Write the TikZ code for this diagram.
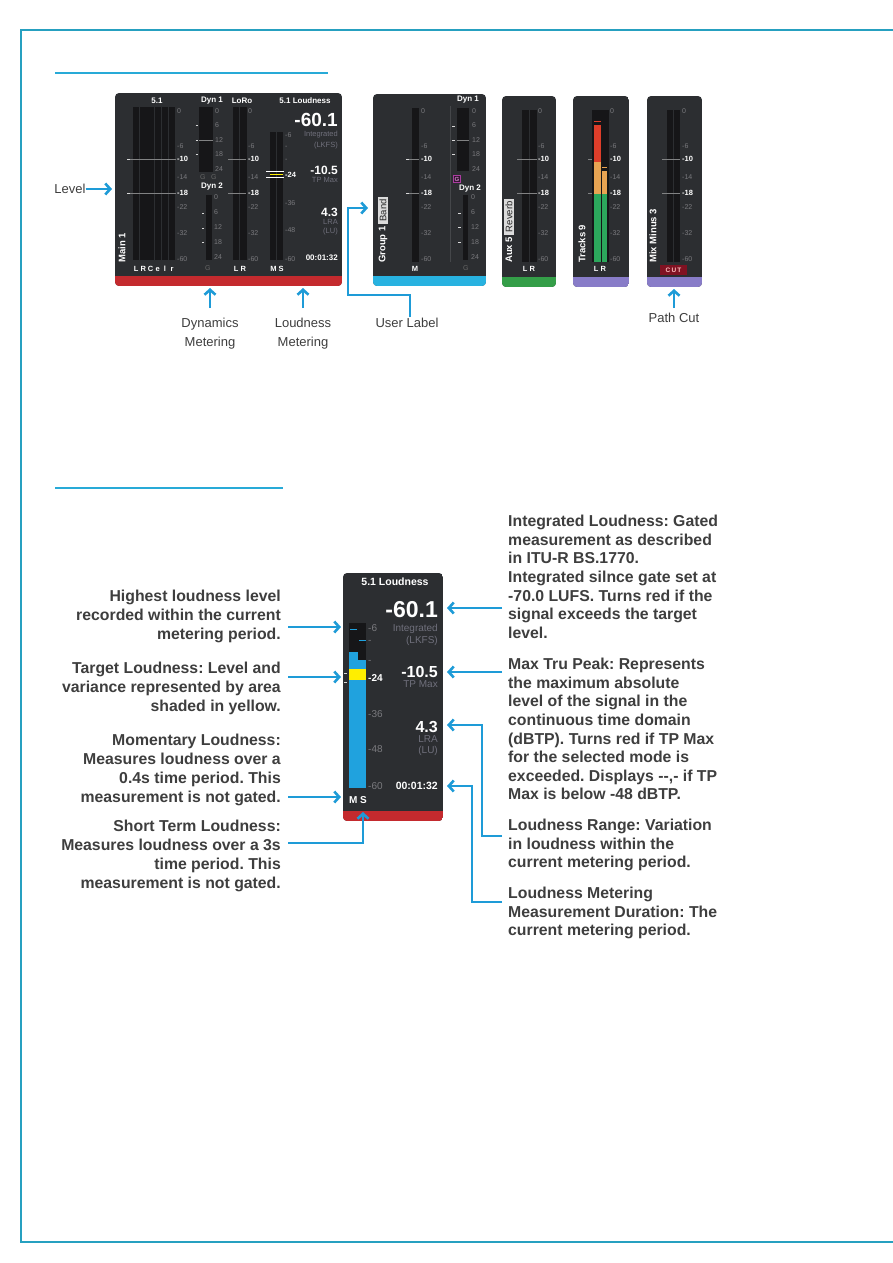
\documentclass[tikz,border=0pt]{standalone}
\usepackage{fontspec}
\setmainfont{Liberation Sans}
\usepackage{tikz}
\usetikzlibrary{arrows.meta, positioning, calc}

\definecolor{framecol}{RGB}{38,160,192}
\definecolor{rulecol}{RGB}{40,170,215}
\definecolor{arrowblue}{RGB}{30,155,215}
\definecolor{panelgray}{RGB}{44,46,49}
\definecolor{meterdark}{RGB}{22,22,24}
\definecolor{scalegray}{RGB}{122,122,126}
\definecolor{bandred}{RGB}{196,42,46}
\definecolor{bandcyan}{RGB}{40,178,224}
\definecolor{bandgreen}{RGB}{52,158,72}
\definecolor{bandpurple}{RGB}{136,124,200}
\definecolor{loudblue}{RGB}{32,162,222}
\definecolor{targetyellow}{RGB}{255,238,0}
\definecolor{mtrred}{RGB}{222,62,42}
\definecolor{mtrorange}{RGB}{232,164,82}
\definecolor{mtrgreen}{RGB}{44,168,92}
\definecolor{cutred}{RGB}{128,18,34}
\definecolor{textgray}{RGB}{62,62,62}
\definecolor{subgray}{RGB}{112,112,124}
\definecolor{gatemag}{RGB}{170,60,160}

\newcommand{\fsz}[2]{\fontsize{#1}{#2}\selectfont}

%% strip panel with coloured foot band
\newcommand{\strippanel}[5]{%
  \begin{scope}
    \clip[rounded corners=4pt] (#1,#2) rectangle (#3,#4);
    \fill[panelgray] (#1,#2) rectangle (#3,#4);
    \fill[#5] (#1,#4-10) rectangle (#3,#4);
  \end{scope}}

%% level scale beside a meter
\newcommand{\levelscale}[1]{%
  \foreach \v/\yy [count=\k] in {0/111,-6/146,-14/177,-22/207,-32/233,-60/259}
    \node[scl] (lv#1-\k) at (#1,\yy) {\v};
  \foreach \v/\yy [count=\k] in {-10/159,-18/193}
    \node[sclb] (lvb#1-\k) at (#1,\yy) {\v};}

%% dynamics scale: x, top y, step
\newcommand{\dynscale}[3]{%
  \foreach \v [count=\k from 0] in {0,6,12,18,24}
    \node[scl] (dy#1-#2-\k) at (#1,{#2+\k*#3}) {\v};}

\begin{document}
\frenchspacing
\begin{tikzpicture}[x=1pt, y=-1pt,
  arr/.style={-{Straight Barb[length=5pt,width=11pt]}, line width=2.6pt, arrowblue},
  ttl/.style={font=\bfseries\fsz{8}{8}, text=white, inner sep=0},
  scl/.style={anchor=west, inner sep=0, font=\fsz{7}{7}, text=scalegray},
  sclb/.style={anchor=west, inner sep=0, font=\bfseries\fsz{7.5}{7.5}, text=white},
  chn/.style={font=\bfseries\fsz{7.5}{7.5}, text=white, inner sep=0,
    text height=5.4pt, text depth=0pt},
  chname/.style={rotate=90, anchor=west, font=\bfseries\fsz{9.5}{9.5}, text=white, inner sep=0},
  usrlbl/.style={rotate=90, anchor=west, fill=black!14, text=black!85,
    font=\fsz{9.5}{9.5}, inner xsep=2.5pt, inner ysep=1.2pt},
  tickln/.style={white!40!panelgray, line width=0.5pt},
  tickw/.style={white!85!black, line width=0.7pt},
  valtop/.style={anchor=east, inner sep=0, text=white, font=\bfseries\fsz{12}{12}},
  subtop/.style={anchor=east, inner sep=0, text=subgray, font=\fsz{7.5}{7.5}},
  valbig/.style={anchor=east, inner sep=0, text=white, font=\bfseries\fsz{16}{16}},
  subbig/.style={anchor=east, inner sep=0, text=subgray, font=\fsz{10}{10}},
  sclbig/.style={anchor=west, inner sep=0, font=\fsz{10}{10}, text=scalegray},
  lbl/.style={font=\fsz{13}{19}, text=textgray, inner sep=1pt, align=center},
  annL/.style={font=\bfseries\fsz{15.8}{19}, text=textgray, inner sep=0,
    align=right, anchor=north east},
  annR/.style={font=\bfseries\fsz{15.8}{18.6}, text=textgray, inner sep=0,
    align=left, anchor=north west}
]
  \fill[white] (0,0) rectangle (893,1263);
  \useasboundingbox (0,0) rectangle (893,1263);

  %% page frame and section rules
  \draw[framecol, line width=1.3pt] (893,30) -- (21,30) -- (21,1242) -- (893,1242);
  \draw[rulecol, line width=1.4pt] (55,73) -- (328,73);
  \draw[rulecol, line width=1.4pt] (55,488) -- (283,488);

  %% ---------- Main 1 strip ----------
  \strippanel{115}{93}{342}{286}{bandred}
  \node[ttl] (t51)   at (157,101) {5.1};
  \node[ttl] (tdyn1) at (212,101) {Dyn 1};
  \node[ttl] (tloro) at (242,101) {LoRo};
  \node[ttl] (tloud) at (305,101) {5.1 Loudness};
  \node[chname] (mainnm) at (122,263) {Main 1};

  % 5.1 level meter
  \foreach \i in {0,...,5}
    \fill[meterdark] ({133+\i*7.2},107) rectangle ({139.4+\i*7.2},260);
  \foreach \c [count=\i from 0] in {L,R,C,e,l,r}
    \node[chn] (ch51-\i) at ({136.2+\i*7.2},269) {\c};
  \draw[tickln] (127,159) -- (176,159);
  \draw[tickln] (127,193) -- (176,193);
  \draw[tickw] (127,159) -- (130,159);
  \draw[tickw] (127,193) -- (130,193);
  \levelscale{177}

  % dynamics meters
  \fill[meterdark] (199,107) rectangle (213,172);
  \dynscale{215}{111}{14.5}
  \foreach \yy in {125,140,154} \draw[tickw] (195.5,\yy) -- (197.5,\yy);
  \draw[tickln] (199,140) -- (213,140);
  \node[scl, text=black!60] (mg1) at (200,177) {G};
  \node[scl, text=black!60] (mg2) at (211,177) {G};
  \node[ttl] (tdyn2) at (212,187) {Dyn 2};
  \fill[meterdark] (206,195) rectangle (212,260);
  \dynscale{214}{197}{15}
  \foreach \yy in {213,228,242} \draw[tickw] (202,\yy) -- (204,\yy);
  \node[scl, text=black!60] (mg3) at (205,268) {G};

  % LoRo meter
  \fill[meterdark] (233,107) rectangle (239.4,260);
  \fill[meterdark] (240.2,107) rectangle (246.5,260);
  \draw[tickln] (228,159) -- (246,159);
  \draw[tickln] (228,193) -- (246,193);
  \levelscale{248}
  \node[chn] (chlr) at (240,269) {L R};

  % loudness meter
  \fill[meterdark] (270,132) rectangle (276.2,260);
  \fill[meterdark] (277,132) rectangle (283,260);
  \draw[white, line width=0.6pt] (266,171) -- (284,171);
  \draw[white, line width=0.6pt] (266,177) -- (284,177);
  \draw[targetyellow, line width=0.8pt] (270,174) -- (283,174);
  \foreach \v/\yy [count=\k] in {-6/135,-/147,-/160,-36/203,-48/230,-60/259}
    \node[scl] (ls-\k) at (285,\yy) {\v};
  \node[sclb] (ls24) at (285,175) {-24};
  \node[chn] (chms) at (277,269) {M S};
  \node[valtop, font=\bfseries\fsz{19}{19}] (tint) at (338,120) {-60.1};
  \node[subtop] (tint1) at (338,135) {Integrated};
  \node[subtop] (tint2) at (338,146) {(LKFS)};
  \node[valtop] (ttp)  at (338,170) {-10.5};
  \node[subtop] (ttp1) at (338,180) {TP Max};
  \node[valtop] (tlra) at (338,212) {4.3};
  \node[subtop] (tlra1) at (338,222) {LRA};
  \node[subtop] (tlra2) at (338,232) {(LU)};
  \node[valtop, font=\bfseries\fsz{8}{8}] (ttime) at (338,258) {00:01:32};

  %% ---------- Group 1 strip ----------
  \strippanel{373}{94}{486}{286}{bandcyan}
  \fill[meterdark] (412,108) rectangle (419,262);
  \draw[tickln] (406,159) -- (419,159);
  \draw[tickln] (406,193) -- (419,193);
  \draw[tickw] (406,159) -- (409,159);
  \draw[tickw] (406,193) -- (409,193);
  \levelscale{421}
  \node[chn] (chm) at (415,269) {M};
  \draw[white!12!panelgray, line width=0.6pt] (450,106) -- (450,262);
  \node[ttl] (gdyn1) at (468,100) {Dyn 1};
  \fill[meterdark] (457,108) rectangle (469,171);
  \dynscale{472}{111}{14.5}
  \foreach \yy in {126,140,154} \draw[tickw] (452,\yy) -- (455,\yy);
  \draw[tickln] (457,140) -- (469,140);
  \node[draw=gatemag, fill=gatemag!30!black, text=gatemag!60!white, font=\bfseries\fsz{6}{6},
    inner sep=1.2pt] (ggate) at (457,179) {G};
  \node[ttl] (gdyn2) at (470,189) {Dyn 2};
  \fill[meterdark] (463,195) rectangle (468,260);
  \dynscale{471}{197}{15}
  \foreach \yy in {213,227,242} \draw[tickw] (458,\yy) -- (461,\yy);
  \node[scl, text=black!60] (gg3) at (463,268) {G};
  \node[chname] (grp) at (383,263) {Group 1};
  \node[usrlbl] (grpbnd) at ([yshift=2pt]grp.east) {Band};

  %% ---------- Aux 5 strip ----------
  \strippanel{502}{96}{556}{287}{bandgreen}
  \fill[meterdark] (522,110) rectangle (529.2,262);
  \fill[meterdark] (530,110) rectangle (537,262);
  \draw[tickln] (517,159) -- (537,159);
  \draw[tickln] (517,193) -- (537,193);
  \levelscale{538}
  \node[chn] (chaux) at (529,269) {L R};
  \node[chname] (aux) at (509,263) {Aux 5};
  \node[usrlbl] (auxrev) at ([yshift=2pt]aux.east) {Reverb};

  %% ---------- Tracks 9 strip ----------
  \strippanel{573}{96}{629}{287}{bandpurple}
  \fill[meterdark] (592,110) rectangle (609,262);
  \fill[mtrred]    (594,125) rectangle (601,162);
  \fill[mtrorange] (594,162) rectangle (601,194);
  \fill[mtrgreen]  (594,194) rectangle (601,262);
  \fill[mtrorange] (602,171) rectangle (607,194);
  \fill[mtrgreen]  (602,194) rectangle (607,262);
  \draw[mtrred, line width=1pt] (594,121) -- (601,121);
  \draw[mtrorange, line width=1pt] (602,167) -- (607,167);
  \draw[tickln] (588,159) -- (592,159);
  \draw[tickln] (588,193) -- (592,193);
  \levelscale{610}
  \node[chn] (chtrk) at (600,269) {L R};
  \node[chname] (trk) at (582,263) {Tracks 9};

  %% ---------- Mix Minus 3 strip ----------
  \strippanel{647}{96}{702}{287}{bandpurple}
  \fill[meterdark] (667,110) rectangle (673.2,262);
  \fill[meterdark] (674,110) rectangle (680,262);
  \draw[tickln] (662,159) -- (680,159);
  \draw[tickln] (662,193) -- (680,193);
  \levelscale{682}
  \node[fill=cutred, text=red!25!white, font=\bfseries\fsz{6.5}{6.5}, inner sep=0,
    minimum width=27pt, minimum height=10pt] (cut) at (673.5,270) {C\,U\,T};
  \node[chname] (mix) at (653,263) {Mix Minus 3};

  %% top call-outs
  \coordinate (lvl-t) at (112,189);
  \coordinate (dyn-t) at (210,288);
  \coordinate (loud-t) at (303,288);
  \coordinate (usr-t) at (368,208);
  \coordinate (cut-t) at (674,289);
  \node[lbl, inner sep=0] (lvl) at (70,189) {Level};
  \node[lbl] (dynm) at (210,334) {Dynamics\\Metering};
  \node[lbl] (loudm) at (303,334) {Loudness\\Metering};
  \node[lbl] (usr) at (407,323) {User Label};
  \node[lbl] (pcut) at (674,318) {Path Cut};
  \draw[arr] (lvl.east) -- (lvl-t);
  \draw[arr, shorten <=9pt] (dynm.north) -- (dyn-t);
  \draw[arr, shorten <=9pt] (loudm.north) -- (loud-t);
  \draw[arr] ([xshift=3pt]usr.north) |- (348,295) |- (usr-t);
  \draw[arr, shorten <=4pt] (pcut.north) -- (cut-t);

  %% ---------- loudness close-up ----------
  \strippanel{343}{573}{443}{821}{bandred}
  \node[font=\bfseries\fsz{10.5}{10.5}, text=white, inner sep=0] (bttl) at (395,582) {5.1 Loudness};
  \fill[meterdark] (349,623) rectangle (366,788);
  \fill[loudblue] (349,652) rectangle (358,788);
  \fill[loudblue] (358,660) rectangle (366,788);
  \draw[loudblue, line width=1pt] (350,629) -- (357,629);
  \draw[loudblue, line width=1pt] (359,640) -- (366,640);
  \fill[targetyellow] (349,669) rectangle (366,680);
  \draw[tickw] (344,673) -- (347,673);
  \draw[tickw] (344,682) -- (347,682);
  \foreach \v/\yy [count=\k] in {-6/628,-/642,-/662,-36/714,-48/749,-60/786}
    \node[sclbig] (bs-\k) at (368,\yy) {\v};
  \node[sclbig, text=white, font=\bfseries\fsz{10}{10}] (bs24) at (368,678) {-24};
  \node[font=\bfseries\fsz{10}{10}, text=white, inner sep=0] (bms) at (358,800) {M S};
  \node[valbig, font=\bfseries\fsz{23}{23}] (bint) at (438,610) {-60.1};
  \node[subbig] (bint1) at (438,629) {Integrated};
  \node[subbig] (bint2) at (438,641) {(LKFS)};
  \node[valbig] (btp)  at (438,672) {-10.5};
  \node[subbig] (btp1) at (438,684) {TP Max};
  \node[valbig] (blra) at (438,727) {4.3};
  \node[subbig] (blra1) at (438,739) {LRA};
  \node[subbig] (blra2) at (438,751) {(LU)};
  \node[valbig, font=\bfseries\fsz{10.5}{10.5}] (btime) at (438,786) {00:01:32};

  %% left notes
  \node[annL] (hiTxt)  at (281,590) {Highest loudness level\\recorded within the current\\metering period.};
  \node[annL] (tgtTxt) at (281,662) {Target Loudness: Level and\\variance represented by area\\shaded in yellow.};
  \node[annL] (momTxt) at (281,734) {Momentary Loudness:\\Measures loudness over a\\0.4s time period. This\\measurement is not gated.};
  \node[annL] (stTxt)  at (281,820) {Short Term Loudness:\\Measures loudness over a 3s\\time period. This\\measurement is not gated.};

  %% right notes
  \node[annR] (intTxt) at (508,515) {Integrated Loudness: Gated\\measurement as described\\in ITU-R BS.1770.\\Integrated silnce gate set at\\-70.0 LUFS. Turns red if the\\signal exceeds the target\\level.};
  \node[annR] (tpTxt)  at (508,658) {Max Tru Peak: Represents\\the maximum absolute\\level of the signal in the\\continuous time domain\\(dBTP). Turns red if TP Max\\for the selected mode is\\exceeded. Displays -{}-,- if TP\\Max is below -48 dBTP.};
  \node[annR] (lraTxt) at (508,819) {Loudness Range: Variation\\in loudness within the\\current metering period.};
  \node[annR] (durTxt) at (508,887) {Loudness Metering\\Measurement Duration: The\\current metering period.};

  %% note arrows
  \coordinate (hi-s) at (288,627);   \coordinate (hi-t) at (341,627);
  \coordinate (tg-s) at (288,677);   \coordinate (tg-t) at (341,677);
  \coordinate (mo-s) at (288,797);   \coordinate (mo-t) at (341,797);
  \coordinate (st-s) at (288,843);   \coordinate (st-t) at (363,812);
  \coordinate (in-s) at (502,608);   \coordinate (in-t) at (447,608);
  \coordinate (tp-s) at (502,672);   \coordinate (tp-t) at (447,672);
  \coordinate (lr-s) at (502,836);   \coordinate (lr-t) at (447,725);
  \coordinate (du-s) at (502,902);   \coordinate (du-t) at (447,786);
  \draw[arr] (hi-s) -- (hi-t);
  \draw[arr] (tg-s) -- (tg-t);
  \draw[arr] (mo-s) -- (mo-t);
  \draw[arr] (st-s) -| (st-t);
  \draw[arr] (in-s) -- (in-t);
  \draw[arr] (tp-s) -- (tp-t);
  \draw[arr] (lr-s) -- (482,836) |- (lr-t);
  \draw[arr] (du-s) -- (472,902) |- (du-t);
\end{tikzpicture}
\end{document}
